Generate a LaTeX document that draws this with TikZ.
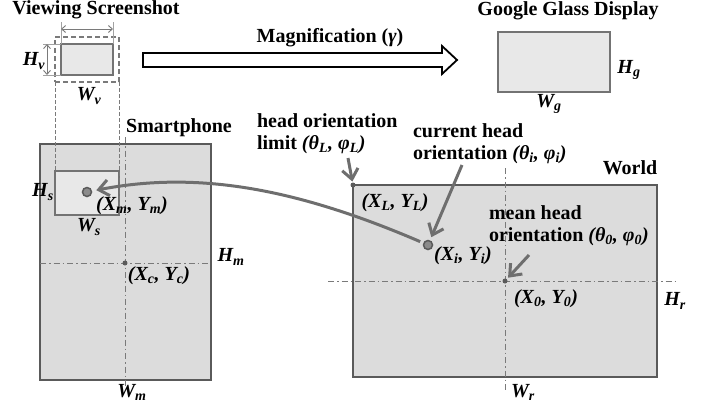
\documentclass[tikz,border=0pt]{standalone}
\usepackage{fontspec}
\setmainfont{Liberation Serif}
\usetikzlibrary{positioning,arrows.meta}
\definecolor{EdgeGray}{HTML}{5A5A5A}
\definecolor{FillGray}{HTML}{DCDCDC}
\definecolor{LightGray}{HTML}{E8E8E8}
\definecolor{ArrowGray}{HTML}{6E6E6E}
\definecolor{GuideGray}{HTML}{7A7A7A}

\begin{document}
\begin{tikzpicture}[
    x=1pt, y=-1pt,
    every node/.style={
        inner sep=0pt,
        outer sep=0pt,
        font=\fontsize{20}{22}\selectfont\bfseries
    },
    lbl/.style={font=\fontsize{20}{22}\selectfont\bfseries\itshape},
    bigbox/.style={draw=EdgeGray, line width=2pt, fill=FillGray},
    smallbox/.style={draw=EdgeGray!85, line width=1.5pt, fill=LightGray},
    dashbox/.style={draw=GuideGray, line width=1.2pt, dash pattern=on 5pt off 3pt},
    guide/.style={draw=GuideGray, line width=0.8pt, dash pattern=on 4pt off 2pt},
    axis/.style={draw=GuideGray, line width=0.9pt, dash pattern=on 6pt off 3pt on 1.5pt off 3pt},
    dimline/.style={draw=GuideGray!70, line width=0.7pt},
    dimarrow/.style={draw=GuideGray, line width=0.9pt,
        {Straight Barb[length=4pt,width=7pt]}-{Straight Barb[length=4pt,width=7pt]}},
    pointer/.style={draw=ArrowGray, line width=3pt, -{Straight Barb[length=10pt,width=16pt]}},
    bigdot/.style={circle, draw=EdgeGray, line width=1.5pt, fill=ArrowGray!80, minimum size=9pt},
    smalldot/.style={circle, fill=EdgeGray, minimum size=5pt}
]
\useasboundingbox (0,0) rectangle (708,407);

% titles
\node (vstitle) at (96,10) {Viewing Screenshot};
\node (magtxt) at (330,38) {Magnification (\textit{γ})};
\node (glasstitle) at (568,11) {Google Glass Display};

% viewing screenshot
\node[dashbox, minimum width=64pt, minimum height=45pt] (vsdash) at (87,59.5) {};
\node[smallbox, minimum width=52pt, minimum height=31pt] (view) at (87,59.5) {};
\draw[dimline] (view.north west) -- ++(0,-22);
\draw[dimline] (view.north east) -- ++(0,-22);
\draw[dimarrow] ([yshift=15pt]view.north west) -- ([yshift=15pt]view.north east);
\draw[dimline] (view.north west) -- ++(-18,0);
\draw[dimline] (view.south west) -- ++(-18,0);
\draw[dimarrow] ([xshift=-14pt]view.north west) -- ([xshift=-14pt]view.south west);
\node[lbl] (Hv) at (34,61) {H\textsubscript{v}};
\node[lbl] (Wv) at (89,96) {W\textsubscript{v}};

% magnification
\draw[line width=1.8pt, fill=white] (143,53) -- (442,53) -- (442,46) -- (457,60)
    -- (442,74) -- (442,67) -- (143,67) -- cycle;

% glass display
\node[smallbox, line width=2pt, minimum width=112pt, minimum height=60pt] (glass) at (554,62) {};
\node[lbl] (Hg) at (629,70) {H\textsubscript{g}};
\node[lbl] (Wg) at (549,104) {W\textsubscript{g}};

% smartphone
\node (phonetxt) at (179,128) {Smartphone};
\node[bigbox, minimum width=171pt, minimum height=236pt] (phone) at (125.5,262) {};
\node[smallbox, minimum width=64pt, minimum height=44pt] (screen) at (87,193) {};
\draw[guide] (vsdash.south west) -- (screen.north west);
\draw[guide] (vsdash.south east) -- (screen.south east);
\draw[axis] (125,137) -- (125,388);
\draw[axis] (40,263) -- (211,263);
\node[bigdot] (dotM) at (87,192) {};
\node[smalldot] (dotC) at (125,263) {};
\node[lbl] (Hs) at (43,192) {H\textsubscript{s}};
\node[lbl] (Ws) at (89,227) {W\textsubscript{s}};
\node[lbl] (XmYm) at (132,206) {(X\textsubscript{m}, Y\textsubscript{m})};
\node[lbl] (XcYc) at (159,276) {(X\textsubscript{c}, Y\textsubscript{c})};
\node[lbl] (Hm) at (231,257) {H\textsubscript{m}};
\node[lbl] (Wm) at (132,392) {W\textsubscript{m}};

% world
\node (worldtxt) at (630,168) {World};
\node[bigbox, minimum width=304pt, minimum height=192pt] (world) at (505,281) {};
\draw[axis] (505,168) -- (505,393);
\draw[axis] (328,281) -- (675,281);
\node[smalldot] (dotL) at (353,185) {};
\node[bigdot] (dotI) at (428,245) {};
\node[smalldot] (dotO) at (505,281) {};
\node[lbl] (XLYL) at (395,203) {(X\textsubscript{L}, Y\textsubscript{L})};
\node[lbl] (XiYi) at (463,256) {(X\textsubscript{i}, Y\textsubscript{i})};
\node[lbl] (X0Y0) at (546,299) {(X\textsubscript{0}, Y\textsubscript{0})};
\node[lbl] (Hr) at (675,301) {H\textsubscript{r}};
\node[lbl] (Wr) at (523,392) {W\textsubscript{r}};

% orientations
\node[anchor=north west, align=left] (limittxt) at (257,114)
    {head orientation\\limit \textit{(θ\textsubscript{L}, φ\textsubscript{L})}};
\node[anchor=north west, align=left] (curtxt) at (413,124)
    {current head\\orientation \textit{(θ\textsubscript{i}, φ\textsubscript{i})}};
\node[anchor=north west, align=left] (meantxt) at (489,206)
    {mean head\\orientation \textit{(θ\textsubscript{0}, φ\textsubscript{0})}};
\coordinate (limitfrom) at (348,158);
\coordinate (curfrom) at (462,165);
\coordinate (meanfrom) at (529,255);
\draw[pointer, shorten >=1pt] (limitfrom) -- (dotL);
\draw[pointer, shorten >=4pt] (curfrom) -- (dotI);
\draw[pointer, shorten >=2pt] (meanfrom) -- (dotO);

% mapping
\draw[pointer, shorten <=4pt, shorten >=5pt] (dotI) .. controls (300,190) and (200,170) .. (dotM);

\end{tikzpicture}
\end{document}
